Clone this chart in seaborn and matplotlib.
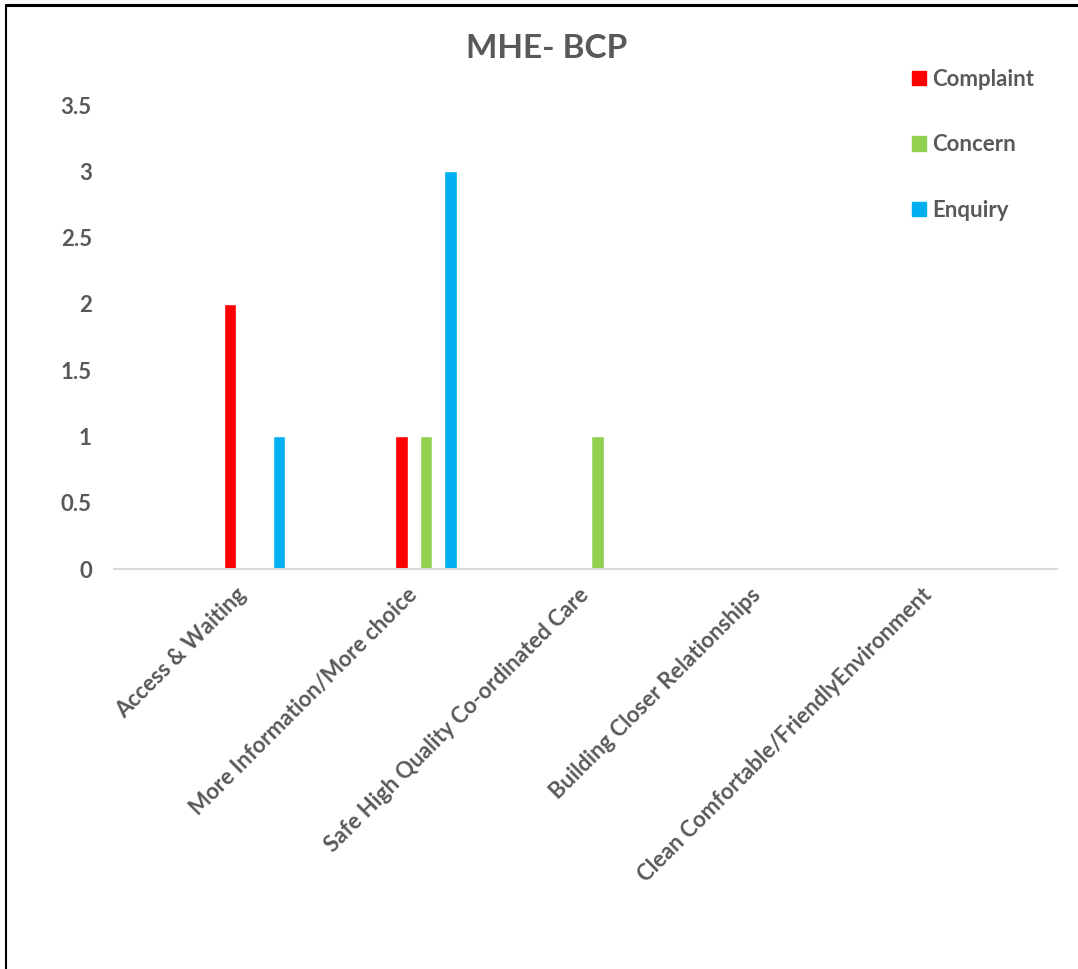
import numpy as np
import pandas as pd
import matplotlib
matplotlib.use("Agg")
import matplotlib.pyplot as plt
import matplotlib.transforms as mtransforms
from matplotlib.lines import Line2D
import seaborn as sns

# Feedback themes and counts per feedback type
categories = [
    "Access & Waiting",
    "More Information/More choice",
    "Safe High Quality Co-ordinated Care",
    "Building Closer Relationships",
    "Clean Comfortable/FriendlyEnvironment",
]
complaint = [2, 1, 0, 0, 0]
concern = [0, 1, 1, 0, 0]
enquiry = [1, 3, 0, 0, 0]

series_names = ["Complaint", "Concern", "Enquiry"]
series_colors = ["#FF0000", "#92D050", "#00B0F0"]
y_ticks = [0, 0.5, 1, 1.5, 2, 2.5, 3, 3.5]
title = "MHE- BCP"

text_gray = "#595959"
label_size = 16

sns.set_theme(style="white")
plt.rcParams["font.family"] = ["Lato", "DejaVu Sans"]
plt.rcParams["font.weight"] = "bold"

df = pd.DataFrame({
    "Category": categories * 3,
    "Type": [series_names[0]] * 5 + [series_names[1]] * 5 + [series_names[2]] * 5,
    "Count": complaint + concern + enquiry,
})

fig = plt.figure(figsize=(10.78, 9.69), dpi=100)
ax = fig.add_axes([114 / 1078, 1 - 569 / 969, (1057 - 114) / 1078, (569 - 105) / 969])

sns.barplot(
    data=df, x="Category", y="Count", hue="Type",
    order=categories, hue_order=series_names,
    palette=series_colors, width=0.429, gap=0.5,
    saturation=1, legend=False, ax=ax, errorbar=None,
)

ax.set_xlim(-0.819, 4.679)
ax.set_ylim(0, 3.5)
ax.set_yticks(y_ticks)
ax.set_yticklabels([f"{v:g}" for v in y_ticks], fontsize=label_size,
                   fontweight="bold", color=text_gray)
ax.set_xlabel("")
ax.set_ylabel("")

for s in ["top", "right", "left"]:
    ax.spines[s].set_visible(False)
ax.spines["bottom"].set_color("#D9D9D9")
ax.spines["bottom"].set_linewidth(1.5)

ax.tick_params(axis="y", length=0, pad=16)
ax.tick_params(axis="x", length=0, pad=14)
ax.set_xticks(range(len(categories)))
ax.set_xticklabels(categories, rotation=45, ha="right", va="center",
                   rotation_mode="anchor", fontsize=label_size,
                   fontweight="bold", color=text_gray)
shift = mtransforms.ScaledTranslation(-0.12, -0.03, fig.dpi_scale_trans)
for lbl in ax.get_xticklabels():
    lbl.set_transform(lbl.get_transform() + shift)

# Legend with square colour keys, stacked on the right
handles = [plt.Rectangle((0, 0), 1, 1, color=c) for c in series_colors]
leg = fig.legend(
    handles, series_names, loc="upper left",
    bbox_to_anchor=(912 / 1078, 1 - 69 / 969),
    frameon=False, borderpad=0, borderaxespad=0,
    handlelength=0.62, handleheight=0.62, handletextpad=0.28,
    labelspacing=2.0, prop={"size": label_size, "weight": "bold"},
)
for t in leg.get_texts():
    t.set_color(text_gray)

fig.text(546.5 / 1078, 1 - 49 / 969, title, ha="center", va="center",
         fontsize=24, fontweight="bold", color=text_gray)

# Frame lines along the top and left edges
fig.add_artist(Line2D([6 / 1078, 1], [1 - 5 / 969, 1 - 5 / 969],
                      transform=fig.transFigure, color="black", linewidth=2.2))
fig.add_artist(Line2D([6 / 1078, 6 / 1078], [0, 1 - 5 / 969],
                      transform=fig.transFigure, color="black", linewidth=1.5))

fig.savefig("out.png", dpi=100, facecolor="white")
